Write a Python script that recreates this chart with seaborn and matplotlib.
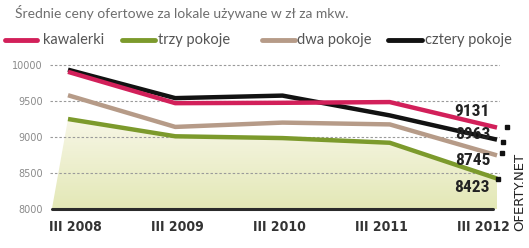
import numpy as np
import pandas as pd
import matplotlib
matplotlib.use("Agg")
import matplotlib.pyplot as plt
import seaborn as sns
from matplotlib import font_manager
from matplotlib.lines import Line2D
from matplotlib.patches import Polygon
from matplotlib.colors import LinearSegmentedColormap
from matplotlib.transforms import ScaledTranslation

# ---------------- data ----------------
periods = ["III 2008", "III 2009", "III 2010", "III 2011", "III 2012"]
series_names = ["kawalerki", "trzy pokoje", "dwa pokoje", "cztery pokoje"]
kawalerki = [9905, 9470, 9475, 9485, 9131]
trzy_pokoje = [9250, 9010, 8985, 8920, 8423]
dwa_pokoje = [9580, 9140, 9200, 9175, 8745]
cztery_pokoje = [9935, 9540, 9575, 9300, 8963]
end_labels = ["9131", "8963", "8745", "8423"]
yticks = [8000, 8500, 9000, 9500, 10000]
title = "Średnie ceny ofertowe za lokale używane w zł za mkw."
source = "OFERTY.NET"

colors = {"kawalerki": "#d2205a", "trzy pokoje": "#7c9a2c",
          "dwa pokoje": "#b69b88", "cztery pokoje": "#121212"}

values = {"kawalerki": kawalerki, "trzy pokoje": trzy_pokoje,
          "dwa pokoje": dwa_pokoje, "cztery pokoje": cztery_pokoje}

pos = np.arange(len(periods))
df = pd.DataFrame({
    "pos": np.tile(pos, len(series_names)),
    "period": periods * len(series_names),
    "series": np.repeat(series_names, len(periods)),
    "value": np.concatenate([values[s] for s in series_names]),
})

sns.set_style("white")
plt.rcParams['font.family'] = ['DejaVu Sans']

available = {f.name for f in font_manager.fontManager.ttflist}
narrow = next((f for f in ["Liberation Sans Narrow", "Roboto Condensed", "Roboto"]
               if f in available), "DejaVu Sans")
light = next((f for f in ["Lato", "Open Sans"] if f in available), "DejaVu Sans")

W, H = 529, 248
fig = plt.figure(figsize=(W / 100, H / 100), dpi=100)
ax = fig.add_axes([50 / W, 1 - 212 / H, 450 / W, 152 / H])

scale = 107.25
xlim = (-18 / scale, 4 + 3 / scale)
ylim = (8000 - 3 / 72 * 1000, 10000 + 5 / 72 * 1000)

# gradient fill under "trzy pokoje"
poly_pts = [(pos[0] - 0.15, 8000)] + list(zip(pos, trzy_pokoje)) + [(pos[-1], 8000)]
poly = Polygon(poly_pts, closed=True, facecolor="none", edgecolor="none")
ax.add_patch(poly)
cmap = LinearSegmentedColormap.from_list("g", ["#f7f6e6", "#e3e8b6"])
im = ax.imshow(np.linspace(0, 1, 256).reshape(-1, 1), cmap=cmap, aspect="auto",
               extent=[pos[0] - 0.2, pos[-1], 8000, max(trzy_pokoje)], zorder=0)
im.set_clip_path(poly)

# grid
for v in yticks[1:]:
    ax.axhline(v, color="#9a9a9a", lw=0.8, ls=(0, (2.2, 1.8)), zorder=1)
ax.axhline(yticks[0], xmin=2 / 450, xmax=443 / 450, color="#2b2b2b", lw=2.2, zorder=3)

# lines
hue_order = ["trzy pokoje", "dwa pokoje", "cztery pokoje", "kawalerki"]
sns.lineplot(data=df, x="pos", y="value", hue="series", hue_order=hue_order,
             palette=colors, lw=3.2, ax=ax, legend=False, solid_capstyle="butt",
             zorder=4)
ax.set_xlim(*xlim)
ax.set_ylim(*ylim)

# end labels + small square markers
label_series = ["kawalerki", "cztery pokoje", "dwa pokoje", "trzy pokoje"]
label_dy = [11.5, 3.6, -3.6, -6.5]
marker_off = [(10, 1), (6, -2), (5, 2), (1, 0)]
for s, lab, dy, (mx, my) in zip(label_series, end_labels, label_dy, marker_off):
    v = values[s][-1]
    ax.annotate(lab, (pos[-1], v), xytext=(-5, dy), textcoords="offset points",
                ha="right", va="center", fontsize=12.5, fontweight="bold",
                family=[narrow, "DejaVu Sans"], color="#222222", zorder=6)
    tr = ax.transData + ScaledTranslation(mx / 100, my / 100, fig.dpi_scale_trans)
    ax.plot([pos[-1]], [v], marker="s", ms=3, color="#111111", transform=tr,
            zorder=6, clip_on=False)

# axes styling
ax.set_yticks(yticks)
ax.set_yticklabels([str(v) for v in yticks], fontsize=7, color="#8a8a8a")
ax.set_xticks(pos * 0.95 + 0.07)
ax.set_xticklabels(periods, fontsize=10, fontweight="bold", color="#333333",
                   fontstretch="condensed")
ax.tick_params(axis="y", length=0, pad=5)
ax.tick_params(axis="x", length=0, pad=6)
ax.set_xlabel("")
ax.set_ylabel("")
for sp in ax.spines.values():
    sp.set_visible(False)
ax.patch.set_alpha(0)

# title
fig.text(15 / W, 1 - 12 / H, title, va="center", ha="left", fontsize=10,
         color="#6e6e6e", family=[light, "DejaVu Sans"])

# legend
leg_pos = [(5, 37, 43), (122, 155, 158), (262, 295, 297), (388, 422, 425)]
ly = 1 - 40 / H
for name, (x0, x1, xt) in zip(series_names, leg_pos):
    fig.add_artist(Line2D([x0 / W, x1 / W], [ly, ly], transform=fig.transFigure,
                          color=colors[name], lw=3.5, solid_capstyle="round",
                          zorder=1))
    fig.text(xt / W, ly, name, va="center", ha="left", fontsize=10.5,
             color="#555555", family=[light, "DejaVu Sans"], zorder=5)

# source
fig.text(520 / W, 1 - 192 / H, source, rotation=90, va="center", ha="center",
         fontsize=9.5, color="#222222")

fig.savefig("out.png", dpi=100)
